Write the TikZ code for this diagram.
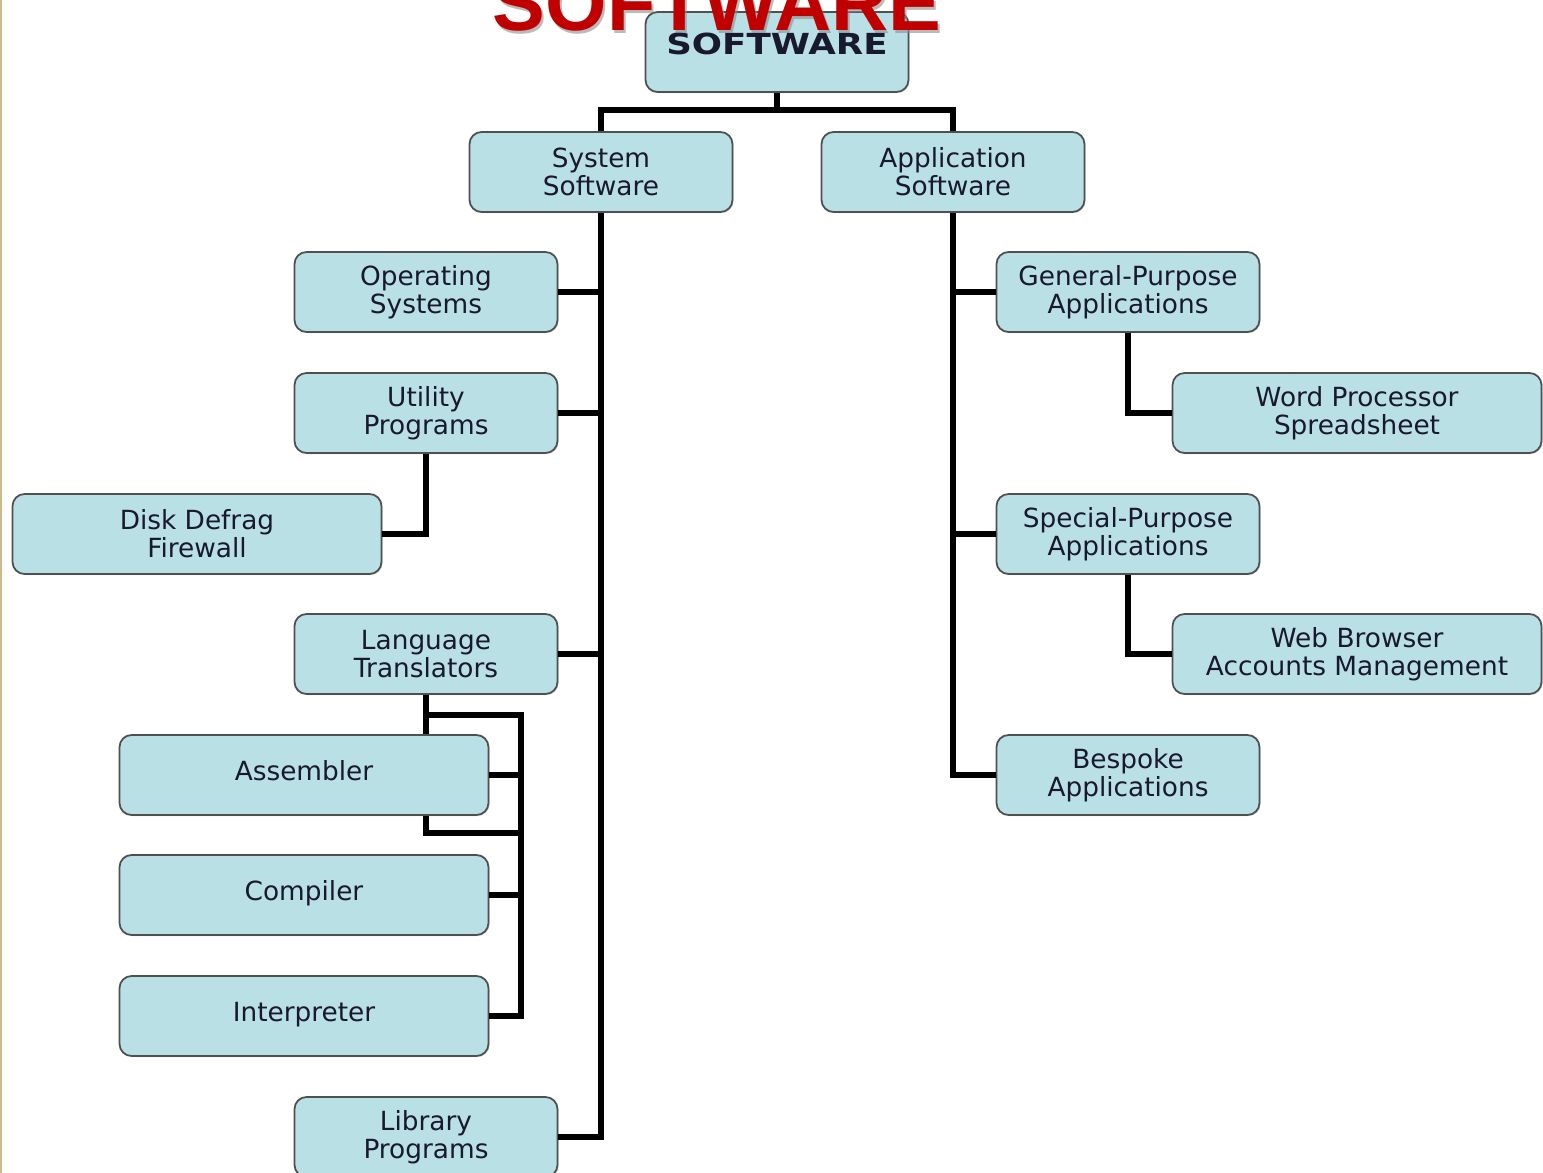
\documentclass[tikz,border=0pt]{standalone}
\usepackage{fontspec}
\setmainfont{DejaVu Sans}
\newfontfamily\titlefont{Liberation Sans}
\usepackage{graphicx}
\usetikzlibrary{shadows}

\definecolor{boxfill}{RGB}{185,224,228}
\definecolor{boxline}{RGB}{80,80,80}
\definecolor{boxtext}{RGB}{25,25,45}
\definecolor{titlered}{RGB}{192,0,0}
\definecolor{edgetan}{RGB}{205,185,140}

\begin{document}
\begin{tikzpicture}[x=0.02cm, y=-0.02cm,
  box/.style={draw=boxline, line width=1pt, fill=boxfill, rounded corners=0.24cm,
    minimum width=5.26cm, minimum height=1.6cm, align=center, text=boxtext,
    font=\fontsize{15}{16}\selectfont,
    drop shadow={shadow xshift=0.6pt, shadow yshift=-0.6pt, opacity=0.35}},
  widebox/.style={box, minimum width=7.38cm},
  link/.style={line width=3.2pt, black}]

  \useasboundingbox (0,0) rectangle (1543,1173);
  \fill[white] (0,0) rectangle (1543,1173);
  \draw[edgetan, line width=0.8pt] (1,0) -- (1,1173);

%%%%%%%%%%%%%%%%%%%%%%%%%%%%%%%%%%%%%%%%%%
  % Top of the tree
  \node[box] (root) at (777,52) {\raisebox{9pt}{\bfseries\scalebox{1.35}[1.1]{SOFTWARE}}};
  \node[box] (sys) at (601,172) {System\\Software};
  \node[box] (app) at (953,172) {Application\\Software};

  \coordinate (split) at (777,110);
  \draw[link] (root.south) -- (split);
  \draw[link] (sys.north) |- (split) -| (app.north);

%%%%%%%%%%%%%%%%%%%%%%%%%%%%%%%%%%%%%%%%%%
  % System software branch
  \node[box] (os) at (426,292) {Operating\\Systems};
  \node[box] (util) at (426,413) {Utility\\Programs};
  \node[widebox] (disk) at (197,534) {Disk Defrag\\Firewall};
  \node[box] (lang) at (426,654) {Language\\Translators};
  \node[widebox] (asm) at (304,775) {\raisebox{5pt}{Assembler}};
  \node[widebox] (comp) at (304,895) {\raisebox{5pt}{Compiler}};
  \node[widebox] (interp) at (304,1016) {\raisebox{5pt}{Interpreter}};
  \node[box] (lib) at (426,1137) {Library\\Programs};

  % Trunk and branches
  \draw[link] (sys.south) |- (lib.east);
  \foreach \n in {os, util, lang}
    \draw[link] (\n.east) -- (\n.east -| sys.south);
  \draw[link] (util.south) |- (disk.east);

  % Translators
  \coordinate (lbus) at (521,715);
  \coordinate (abus) at (521,833);
  \draw[link] (lang.south) -- (lang.south |- asm.north);
  \draw[link] (lang.south |- lbus) -- (lbus) |- (interp.east);
  \draw[link] (asm.east) -- (asm.east -| lbus);
  \draw[link] (comp.east) -- (comp.east -| lbus);
  \draw[link] (lang.south |- asm.south) |- (abus);

%%%%%%%%%%%%%%%%%%%%%%%%%%%%%%%%%%%%%%%%%%
  % Application software branch
  \node[box] (gen) at (1128,292) {General-Purpose\\Applications};
  \node[widebox] (word) at (1357,413) {Word Processor\\Spreadsheet};
  \node[box] (spec) at (1128,534) {Special-Purpose\\Applications};
  \node[widebox] (web) at (1357,654) {Web Browser\\Accounts Management};
  \node[box] (besp) at (1128,775) {Bespoke\\Applications};

  \draw[link] (app.south) |- (besp.west);
  \foreach \n in {gen, spec}
    \draw[link] (\n.west) -- (\n.west -| app.south);
  \draw[link] (gen.south) |- (word.west);
  \draw[link] (spec.south) |- (web.west);

%%%%%%%%%%%%%%%%%%%%%%%%%%%%%%%%%%%%%%%%%%
  % Slide title
  \node[anchor=base, text=black!45, opacity=0.6, font=\titlefont\bfseries\fontsize{45}{45}\selectfont]
    (titleshadow) at (719,33) {SOFTWARE};
  \node[anchor=base, text=titlered, font=\titlefont\bfseries\fontsize{45}{45}\selectfont]
    (title) at (717,31) {SOFTWARE};

\end{tikzpicture}
\end{document}
